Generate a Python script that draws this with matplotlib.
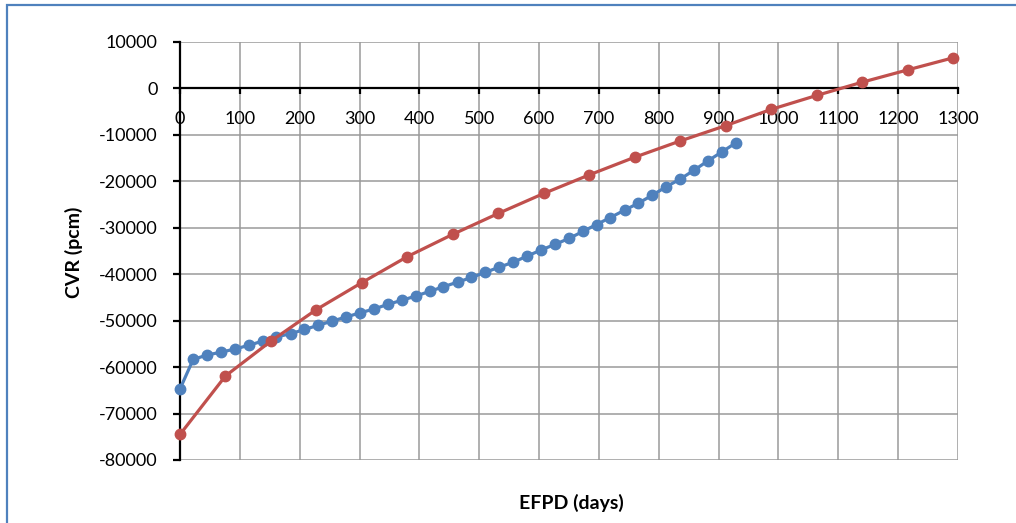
import matplotlib.pyplot as plt
from matplotlib.patches import Rectangle

plt.rcParams['font.family'] = ['Lato', 'DejaVu Sans']
plt.rcParams['axes.unicode_minus'] = False

# blue series (many points)
blue_days = [0, 22, 45, 68, 92, 115, 138, 161, 185, 208, 231, 254, 278, 301,
             324, 347, 371, 394, 417, 440, 464, 487, 510, 533, 557, 580, 603,
             626, 650, 673, 696, 719, 743, 766, 789, 812, 836, 859, 882, 905, 929]
blue_cvr = [-64700, -58350, -57400, -56800, -56100, -55300, -54400, -53500,
            -52800, -51900, -51000, -50100, -49200, -48300, -47500, -46500,
            -45600, -44700, -43700, -42700, -41700, -40700, -39600, -38500,
            -37400, -36100, -34800, -33600, -32300, -30800, -29300, -27800,
            -26200, -24700, -23000, -21200, -19500, -17600, -15600, -13700, -11700]

# red series
red_days = [0, 76, 152, 228, 304, 380, 456, 532, 608, 684, 760, 836, 912,
            988, 1064, 1140, 1216, 1292]
red_cvr = [-74500, -61900, -54400, -47600, -41800, -36200, -31400, -26900,
           -22600, -18600, -14800, -11300, -8000, -4500, -1500, 1350, 4000, 6600]

x_ticks = list(range(0, 1301, 100))
y_ticks = list(range(-80000, 10001, 10000))

fig = plt.figure(figsize=(10.16, 5.23), dpi=100)
ax = fig.add_axes([180 / 1016, 1 - 460 / 523, 778 / 1016, 418 / 523])

ax.plot(blue_days, blue_cvr, color='#4F81BD', lw=2.3, marker='o', ms=7.5,
        zorder=3, clip_on=False)
ax.plot(red_days, red_cvr, color='#C0504D', lw=2.3, marker='o', ms=7.5,
        zorder=3, clip_on=False)

ax.set_xlim(0, 1300)
ax.set_ylim(-80000, 10000)
ax.set_xticks(x_ticks)
ax.set_yticks(y_ticks)
ax.grid(True, color='#9a9a9a', lw=1.1)
ax.set_axisbelow(True)

ax.spines['bottom'].set_position(('data', 0))
ax.spines['bottom'].set_color('black')
ax.spines['bottom'].set_linewidth(1.6)
ax.spines['left'].set_color('black')
ax.spines['left'].set_linewidth(1.6)
ax.spines['top'].set_visible(False)
ax.spines['right'].set_visible(False)

ax.tick_params(axis='x', direction='out', length=4, width=1.6, pad=12, labelsize=13)
ax.tick_params(axis='y', direction='out', length=5, width=1.6, pad=11, labelsize=13)

fig.text(74 / 1016, 1 - 252 / 523, 'CVR (pcm)', rotation=90, ha='center', va='center',
         fontsize=14, fontweight='bold')
fig.text(571 / 1016, 1 - 503 / 523, 'EFPD (days)', ha='center', va='center',
         fontsize=14, fontweight='bold')

# blue frame around the chart
fig.patches.append(Rectangle((7 / 1016, -0.1), 1.2, 1 - 5 / 523 + 0.1,
                             transform=fig.transFigure, fill=False,
                             edgecolor='#4F81BD', lw=1.6))

fig.savefig('out.png', dpi=100)
